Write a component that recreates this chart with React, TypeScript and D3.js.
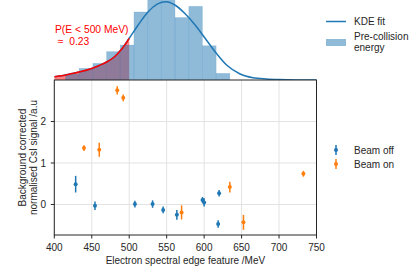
import React from "react";
import * as d3 from "d3";

// ---- data ----
const histEdges = [414.8, 433.1, 451.4, 469.7, 488.0, 506.3, 524.6, 542.9, 561.2, 579.5, 597.8, 616.1, 634.4];
const histDensity = [0.0007, 0.00136, 0.00194, 0.00331, 0.00407, 0.00791, 0.0104, 0.0099, 0.00727, 0.00857, 0.00399, 0.00078];

const kdeEnergy = [400, 412, 424, 436, 448, 460, 470, 480, 490, 500, 512, 525, 538, 549, 561, 574, 588, 603, 616, 630, 648, 665, 683, 700, 725, 750];
const kdeDensity = [0.00038, 0.00052, 0.00076, 0.00099, 0.00128, 0.00169, 0.00209, 0.00267, 0.0036, 0.00485, 0.0064, 0.00791, 0.00884, 0.0091, 0.00872, 0.00776, 0.0064, 0.00465, 0.00314, 0.00174, 0.0007, 0.00027, 0.00012, 0.00005, 0.00001, 0.0];

const offEnergy = [428.5, 454.3, 507.6, 531.2, 545.3, 563.6, 597.8, 600.0, 620.0, 618.7];
const offSignal = [0.49, -0.03, 0.01, 0.01, -0.13, -0.25, 0.11, 0.05, 0.27, -0.47];
const offErr = [0.2, 0.1, 0.08, 0.09, 0.08, 0.12, 0.07, 0.1, 0.08, 0.09];

const onEnergy = [439.6, 460.0, 484.0, 492.0, 569.9, 634.3, 652.5, 732.5];
const onSignal = [1.36, 1.32, 2.75, 2.57, -0.19, 0.42, -0.43, 0.74];
const onErr = [0.07, 0.17, 0.1, 0.08, 0.17, 0.13, 0.18, 0.07];

const xTicks = [400, 450, 500, 550, 600, 650, 700, 750];
const yTicks = [0, 1, 2];
const threshold = 500;

const BLUE = "#1f77b4";
const ORANGE = "#ff7f0e";
const FONT = "'Liberation Sans', Arial, sans-serif";

export default function App() {
  const left = 54.3, right = 316.5;
  const x = d3.scaleLinear().domain([400, 750]).range([left, right]);
  const hTop = 0, hBot = 80;
  const yh = d3.scaleLinear().domain([0, 0.0093]).range([hBot, hTop]);
  const sTop = 80, sBot = 235;
  const ys = d3.scaleLinear().domain([-0.735, 3.0]).range([sBot, sTop]);

  const kde = kdeEnergy.map((e, i) => [e, kdeDensity[i]] as [number, number]);
  const kdeLeft = kde.filter((d) => d[0] <= threshold);
  const line = d3.line<[number, number]>().x((d) => x(d[0])).y((d) => yh(d[1])).curve(d3.curveMonotoneX);
  const area = d3.area<[number, number]>().x((d) => x(d[0])).y0(yh(0)).y1((d) => yh(d[1])).curve(d3.curveMonotoneX);

  const errPoints = (es: number[], ss: number[], er: number[], color: string, key: string) =>
    es.map((e, i) => (
      <g key={key + i}>
        <line x1={x(e)} x2={x(e)} y1={ys(ss[i] - er[i])} y2={ys(ss[i] + er[i])} stroke={color} strokeWidth={1.5} />
        <circle cx={x(e)} cy={ys(ss[i])} r={2} fill={color} />
      </g>
    ));

  return (
    <svg width={415} height={275} style={{ position: "absolute", left: 0, top: 0, background: "#fff" }} fontFamily={FONT}>
      <defs>
        <clipPath id="histClip">
          <rect x={left} y={hTop} width={right - left} height={hBot - hTop} />
        </clipPath>
      </defs>
      {/* histogram panel */}
      <g clipPath="url(#histClip)">
        <path d={area(kdeLeft) || ""} fill="#ff0000" fillOpacity={0.5} />
        {histDensity.map((d, i) => (
          <rect
            key={"h" + i}
            x={x(histEdges[i])}
            width={x(histEdges[i + 1]) - x(histEdges[i])}
            y={yh(d)}
            height={yh(0) - yh(d)}
            fill={BLUE}
            fillOpacity={0.5}
            stroke={BLUE}
            strokeOpacity={0.12}
            strokeWidth={0.8}
          />
        ))}
        <path d={line(kde) || ""} fill="none" stroke={BLUE} strokeWidth={1.5} />
        <path d={line(kdeLeft) || ""} fill="none" stroke="#ff0000" strokeWidth={1.5} />
      </g>
      <text x={55} y={33} fontSize={10.3} fill="#ff0000">P(E &lt; 500 MeV)</text>
      <text x={55} y={44.5} fontSize={10.3} fill="#ff0000" style={{ whiteSpace: "pre" }}>{" \u2248  0.23"}</text>

      {/* scatter panel grid */}
      {xTicks.map((t) => (
        <line key={"gx" + t} x1={x(t)} x2={x(t)} y1={sTop} y2={sBot} stroke="#e3e3e3" strokeWidth={1} />
      ))}
      {yTicks.map((t) => (
        <line key={"gy" + t} x1={left} x2={right} y1={ys(t)} y2={ys(t)} stroke="#e3e3e3" strokeWidth={1} />
      ))}
      {errPoints(offEnergy, offSignal, offErr, BLUE, "off")}
      {errPoints(onEnergy, onSignal, onErr, ORANGE, "on")}
      <rect x={left} y={sTop} width={right - left} height={sBot - sTop} fill="none" stroke="#262626" strokeWidth={1} />

      {/* x axis */}
      {xTicks.map((t) => (
        <g key={"xt" + t}>
          <line x1={x(t)} x2={x(t)} y1={sBot} y2={sBot + 3.5} stroke="#262626" />
          <text x={x(t)} y={251} fontSize={10} textAnchor="middle" fill="#262626">{t}</text>
        </g>
      ))}
      <text x={(left + right) / 2} y={263.5} fontSize={10} textAnchor="middle" fill="#262626">Electron spectral edge feature /MeV</text>

      {/* y axis */}
      {yTicks.map((t) => (
        <g key={"yt" + t}>
          <line x1={left - 3.5} x2={left} y1={ys(t)} y2={ys(t)} stroke="#262626" />
          <text x={46} y={ys(t) + 3.6} fontSize={10} textAnchor="end" fill="#262626">{t}</text>
        </g>
      ))}
      <g transform={`translate(25.5, ${(sTop + sBot) / 2}) rotate(-90)`}>
        <text x={0} y={0} fontSize={10} textAnchor="middle" fill="#262626">Background corrected</text>
        <text x={0} y={11.8} fontSize={10} textAnchor="middle" fill="#262626">normalised CsI signal /a.u</text>
      </g>

      {/* top legend */}
      <line x1={326} x2={346} y1={21.5} y2={21.5} stroke={BLUE} strokeWidth={1.5} />
      <text x={354} y={25} fontSize={10} fill="#262626">KDE fit</text>
      <rect x={326} y={39} width={20} height={7} fill={BLUE} fillOpacity={0.5} />
      <text x={354} y={39.5} fontSize={10} fill="#262626">Pre-collision</text>
      <text x={354} y={50.5} fontSize={10} fill="#262626">energy</text>

      {/* bottom legend */}
      <line x1={336} x2={336} y1={145} y2={155} stroke={BLUE} strokeWidth={1.5} />
      <circle cx={336} cy={150} r={2} fill={BLUE} />
      <text x={354} y={153.5} fontSize={10} fill="#262626">Beam off</text>
      <line x1={336} x2={336} y1={159} y2={169} stroke={ORANGE} strokeWidth={1.5} />
      <circle cx={336} cy={164} r={2} fill={ORANGE} />
      <text x={354} y={167.5} fontSize={10} fill="#262626">Beam on</text>
    </svg>
  );
}
